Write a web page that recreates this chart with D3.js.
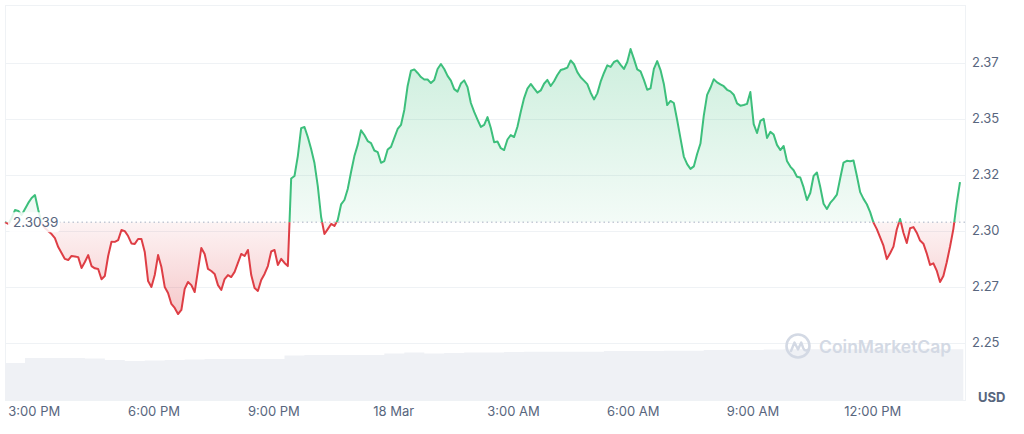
<!DOCTYPE html>
<html><head><meta charset="utf-8">
<script src="https://cdn.jsdelivr.net/npm/d3@7"></script>
<style>
html,body{margin:0;padding:0;background:#fff;}
svg{display:block;font-family:Inter,"Noto Sans",sans-serif;}
</style>
</head><body>
<svg id="chart" width="1024" height="434"></svg>
<script>
// ---- data ----
const startTime = "2024-03-17T14:16:00";
const stepMinutes = 5;
const prices = [
2.3039,2.3031,2.3058,2.3093,2.3089,2.3071,2.3098,2.3125,2.3147,2.3160,
2.3093,2.3035,2.3013,2.2999,2.2986,2.2968,2.2928,2.2901,2.2875,2.2870,
2.2888,2.2886,2.2883,2.2834,2.2861,2.2892,2.2843,2.2833,2.2830,2.2784,
2.2799,2.2888,2.2952,2.2951,2.2959,2.3004,2.2999,2.2977,2.2944,2.2942,
2.2964,2.2964,2.2906,2.2776,2.2750,2.2803,2.2892,2.2839,2.2750,2.2723,
2.2674,2.2656,2.2629,2.2647,2.2741,2.2772,2.2758,2.2727,2.2825,2.2924,
2.2897,2.2830,2.2821,2.2808,2.2758,2.2736,2.2785,2.2803,2.2794,2.2817,
2.2857,2.2897,2.2888,2.2915,2.2803,2.2745,2.2732,2.2781,2.2808,2.2843,
2.2908,2.2915,2.2848,2.2875,2.2857,2.2843,2.3234,2.3245,2.3334,2.3459,
2.3464,2.3419,2.3366,2.3303,2.3200,2.3062,2.2986,2.3008,2.3031,2.3022,
2.3049,2.3118,2.3138,2.3187,2.3263,2.3334,2.3384,2.3449,2.3428,2.3401,
2.3392,2.3359,2.3352,2.3304,2.3312,2.3363,2.3375,2.3415,2.3455,2.3473,
2.3540,2.3647,2.3715,2.3721,2.3705,2.3687,2.3676,2.3676,2.3660,2.3674,
2.3723,2.3745,2.3723,2.3692,2.3671,2.3633,2.3622,2.3658,2.3672,2.3642,
2.3571,2.3531,2.3497,2.3464,2.3473,2.3508,2.3459,2.3396,2.3399,2.3369,
2.3361,2.3408,2.3428,2.3419,2.3465,2.3532,2.3593,2.3635,2.3656,2.3636,
2.3617,2.3627,2.3657,2.3674,2.3647,2.3668,2.3696,2.3718,2.3723,2.3729,
2.3761,2.3744,2.3709,2.3686,2.3671,2.3655,2.3617,2.3587,2.3614,2.3666,
2.3705,2.3739,2.3732,2.3754,2.3761,2.3741,2.3723,2.3754,2.3812,2.3768,
2.3721,2.3712,2.3674,2.3630,2.3636,2.3723,2.3758,2.3718,2.3656,2.3562,
2.3580,2.3571,2.3495,2.3413,2.3332,2.3298,2.3277,2.3288,2.3343,2.3390,
2.3515,2.3607,2.3639,2.3677,2.3663,2.3654,2.3646,2.3630,2.3623,2.3608,
2.3569,2.3559,2.3562,2.3567,2.3620,2.3477,2.3437,2.3491,2.3500,2.3415,
2.3442,2.3430,2.3384,2.3361,2.3379,2.3312,2.3287,2.3271,2.3242,2.3238,
2.3194,2.3138,2.3169,2.3245,2.3261,2.3196,2.3121,2.3098,2.3125,2.3142,
2.3162,2.3235,2.3305,2.3313,2.3311,2.3314,2.3246,2.3173,2.3143,2.3119,
2.3084,2.3037,2.3008,2.2971,2.2934,2.2874,2.2900,2.2930,2.3006,2.3053,
2.2992,2.2946,2.3012,2.3017,2.2992,2.2957,2.2943,2.2900,2.2848,2.2855,
2.2823,2.2772,2.2799,2.2859,2.2929,2.3008,2.3123,2.3218
];
const baselinePrice = 2.3039;
const baselineLabel = "2.3039";
const volumeStepMinutes = 30;
const volumes = [
37,42,42,42,41.5,40,39,39.5,40,40.5,41,41,41,41,44.5,45,45,45,45,46.5,
47.5,46.5,47,47.5,47.5,48,48.3,48.3,48.3,48.3,49,49,49,49.3,49.3,50,50,50,
50.5,50.8,50.8,50.8,50.8,50.8,50.8,50.8,50.8,50.8
];
const yTickValues = [2.25, 2.275, 2.30, 2.325, 2.35, 2.375];
const yTickLabels = ["2.25","2.27","2.30","2.32","2.35","2.37"];
const xTickTimes = ["2024-03-17T15:00:00","2024-03-17T18:00:00","2024-03-17T21:00:00","2024-03-18T00:00:00","2024-03-18T03:00:00","2024-03-18T06:00:00","2024-03-18T09:00:00","2024-03-18T12:00:00"];
const xTickLabels = ["3:00 PM","6:00 PM","9:00 PM","18 Mar","3:00 AM","6:00 AM","9:00 AM","12:00 PM"];
const currencyLabel = "USD";
const watermarkText = "CoinMarketCap";

// ---- layout ----
const plotLeft = 5, plotRight = 965, plotTop = 5, plotBottom = 400;
const lineLeft = 5, lineRight = 960;
const green = "#3dbf7c", red = "#de3e45";
const textColor = "#58667e", gridColor = "#eff2f5";

const t0 = new Date(startTime);
const data = prices.map((p, i) => ({ t: new Date(t0.getTime() + i * stepMinutes * 60000), v: p }));
const volData = volumes.map((v, i) => ({ t: new Date(t0.getTime() + i * volumeStepMinutes * 60000), v }));
volData.push({ t: new Date(t0.getTime() + volumes.length * volumeStepMinutes * 60000), v: volumes[volumes.length - 1] });

const svg = d3.select("#chart");
const x = d3.scaleTime().domain(d3.extent(data, d => d.t)).range([lineLeft, lineRight]);
const y = d3.scaleLinear().domain([2.25, 2.375]).range([342.9, 62.9]);
const yVol = d3.scaleLinear().domain([0, 50]).range([plotBottom, plotBottom - 50]);
const by = y(baselinePrice);

const defs = svg.append("defs");
const gG = defs.append("linearGradient").attr("id", "gGreen").attr("gradientUnits", "userSpaceOnUse")
  .attr("x1", 0).attr("x2", 0).attr("y1", y(d3.max(prices))).attr("y2", by);
gG.append("stop").attr("offset", 0).attr("stop-color", green).attr("stop-opacity", 0.26);
gG.append("stop").attr("offset", 1).attr("stop-color", green).attr("stop-opacity", 0.06);
const gR = defs.append("linearGradient").attr("id", "gRed").attr("gradientUnits", "userSpaceOnUse")
  .attr("x1", 0).attr("x2", 0).attr("y1", by).attr("y2", y(d3.min(prices)));
gR.append("stop").attr("offset", 0).attr("stop-color", red).attr("stop-opacity", 0.06);
gR.append("stop").attr("offset", 1).attr("stop-color", red).attr("stop-opacity", 0.28);
defs.append("clipPath").attr("id", "cAbove").append("rect")
  .attr("x", 0).attr("y", 0).attr("width", 1024).attr("height", by);
defs.append("clipPath").attr("id", "cBelow").append("rect")
  .attr("x", 0).attr("y", by).attr("width", 1024).attr("height", 434 - by);
defs.append("clipPath").attr("id", "cPlot").append("rect")
  .attr("x", plotLeft).attr("y", plotTop).attr("width", plotRight - plotLeft).attr("height", plotBottom - plotTop);

// frame
svg.append("rect").attr("x", plotLeft + 0.5).attr("y", plotTop + 0.5)
  .attr("width", plotRight - plotLeft).attr("height", plotBottom - plotTop)
  .attr("fill", "none").attr("stroke", gridColor).attr("stroke-width", 1);

// grid
svg.append("g").selectAll("line").data(yTickValues).join("line")
  .attr("x1", plotLeft).attr("x2", plotRight)
  .attr("y1", d => Math.round(y(d)) + 0.5).attr("y2", d => Math.round(y(d)) + 0.5)
  .attr("stroke", gridColor).attr("stroke-width", 1);

// volume
svg.append("path").datum(volData)
  .attr("clip-path", "url(#cPlot)")
  .attr("d", d3.area().curve(d3.curveStepAfter).x(d => x(d.t)).y0(plotBottom).y1(d => yVol(d.v)))
  .attr("fill", "#eff1f5");

// watermark
const wm = svg.append("g").attr("transform", "translate(798,346)");
wm.append("circle").attr("r", 11.5).attr("fill", "none").attr("stroke", "#d3d9e4").attr("stroke-width", 2.6);
wm.append("path").attr("d", "M-7,5 L-3.5,-3.5 L0,3.5 L3.2,-3.5 L5.2,2 Q7,6 10.5,3.5")
  .attr("fill", "none").attr("stroke", "#d3d9e4").attr("stroke-width", 2.4)
  .attr("stroke-linejoin", "round").attr("stroke-linecap", "round");
svg.append("text").attr("x", 819).attr("y", 353).text(watermarkText)
  .attr("font-size", 17.5).attr("font-weight", 600).attr("fill", "#d3d9e4");

// areas
const area = d3.area().x(d => x(d.t)).y0(by).y1(d => y(d.v));
svg.append("path").datum(data).attr("d", area).attr("fill", "url(#gGreen)").attr("clip-path", "url(#cAbove)");
svg.append("path").datum(data).attr("d", area).attr("fill", "url(#gRed)").attr("clip-path", "url(#cBelow)");

// baseline
svg.append("line").attr("x1", plotLeft).attr("x2", plotRight).attr("y1", by).attr("y2", by)
  .attr("stroke", "#a6b0c3").attr("stroke-width", 1).attr("stroke-dasharray", "1.5,3");

// lines
const line = d3.line().x(d => x(d.t)).y(d => y(d.v));
svg.append("path").datum(data).attr("d", line).attr("fill", "none").attr("stroke", green)
  .attr("stroke-width", 2).attr("stroke-linejoin", "round").attr("clip-path", "url(#cAbove)");
svg.append("path").datum(data).attr("d", line).attr("fill", "none").attr("stroke", red)
  .attr("stroke-width", 2).attr("stroke-linejoin", "round").attr("clip-path", "url(#cBelow)");

// baseline label
svg.append("rect").attr("x", 8).attr("y", by - 10).attr("width", 52).attr("height", 20).attr("rx", 4)
  .attr("fill", "#fff").attr("fill-opacity", 0.85);
svg.append("text").attr("x", 13).attr("y", by).attr("dy", "0.35em").text(baselineLabel)
  .attr("font-size", 13.5).attr("fill", textColor);

// y axis labels
svg.append("g").selectAll("text").data(yTickValues).join("text")
  .attr("x", 972).attr("y", d => y(d)).attr("dy", "0.35em")
  .text((d, i) => yTickLabels[i]).attr("font-size", 13).attr("fill", textColor);
svg.append("text").attr("x", 978).attr("y", 397).attr("dy", "0.35em").text(currencyLabel)
  .attr("font-size", 13).attr("font-weight", 700).attr("fill", textColor);

// x axis labels
svg.append("g").selectAll("text").data(xTickTimes).join("text")
  .attr("x", d => x(new Date(d))).attr("y", 411).attr("dy", "0.35em")
  .attr("text-anchor", "middle").text((d, i) => xTickLabels[i])
  .attr("font-size", 13).attr("fill", textColor);
</script>
</body></html>
